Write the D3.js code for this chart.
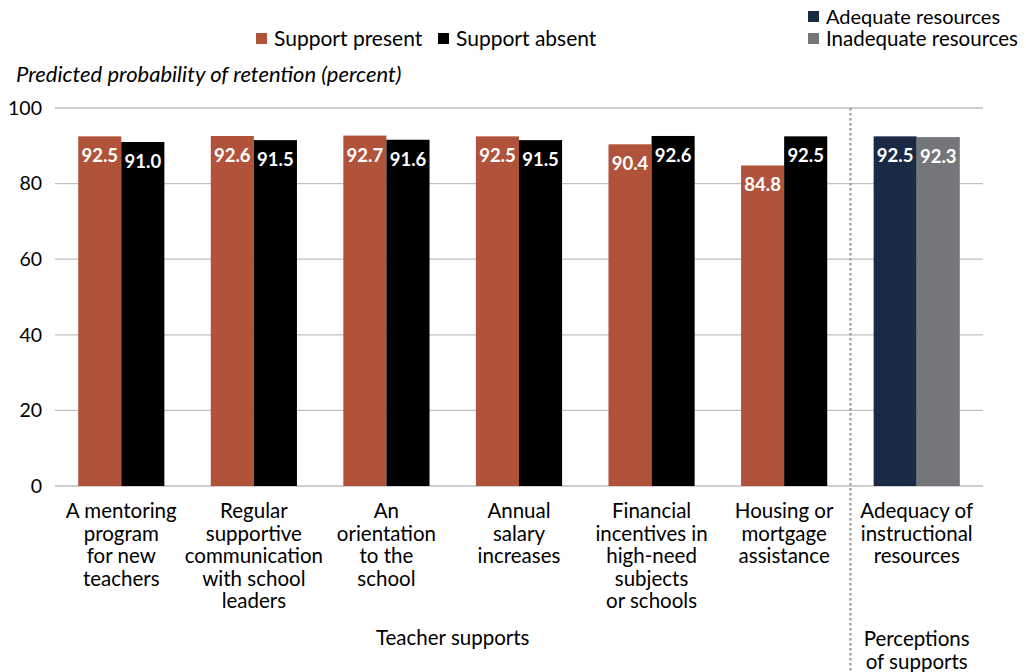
<!DOCTYPE html>
<html><head><meta charset="utf-8">
<script src="https://cdn.jsdelivr.net/npm/d3@7"></script>
<style>body{margin:0;background:#fff}svg{display:block;font-family:Lato,"Open Sans",sans-serif}</style>
</head><body><svg id="c" width="1026" height="672"></svg>
<script>
const categories = [
  ["A mentoring","program","for new","teachers"],
  ["Regular","supportive","communication","with school","leaders"],
  ["An","orientation","to the","school"],
  ["Annual","salary","increases"],
  ["Financial","incentives in","high-need","subjects","or schools"],
  ["Housing or","mortgage","assistance"],
  ["Adequacy of","instructional","resources"]
];
const supportPresent = [92.5, 92.6, 92.7, 92.5, 90.4, 84.8];
const supportAbsent = [91.0, 91.5, 91.6, 91.5, 92.6, 92.5];
const adequate = [92.5];
const inadequate = [92.3];
const yTicks = [0, 20, 40, 60, 80, 100];

const colors = {present:"#B0533A", absent:"#000000", adequate:"#1B2A44", inadequate:"#75767A"};
const svg = d3.select("#c");
const x = d3.scaleBand().domain(d3.range(categories.length)).range([55, 983]).paddingInner(0.35).paddingOuter(0.175);
const y = d3.scaleLinear().domain([0, 100]).range([486, 108]);
const x1 = d3.scaleBand().domain([0,1]).range([0, x.bandwidth()]);

svg.append("g").selectAll("line").data(yTicks).join("line")
  .attr("x1",55).attr("x2",983).attr("y1",d=>y(d)).attr("y2",d=>y(d))
  .attr("stroke","#BFBFBF").attr("stroke-width",1.3);
const yAxis = d3.axisLeft(y).tickValues(yTicks).tickSize(0).tickPadding(13);
const ga = svg.append("g").attr("transform","translate(55,0)").call(yAxis);
ga.select(".domain").remove();
ga.selectAll("text").attr("font-size",19.5).attr("fill","#000").attr("font-family","Lato,'Open Sans',sans-serif");

const bars = [];
supportPresent.forEach((v,i)=>bars.push({g:i,s:0,v,c:colors.present}));
supportAbsent.forEach((v,i)=>bars.push({g:i,s:1,v,c:colors.absent}));
adequate.forEach((v)=>bars.push({g:6,s:0,v,c:colors.adequate}));
inadequate.forEach((v)=>bars.push({g:6,s:1,v,c:colors.inadequate}));
svg.append("g").selectAll("rect").data(bars).join("rect")
  .attr("x",d=>x(d.g)+x1(d.s)).attr("width",x1.bandwidth())
  .attr("y",d=>y(d.v)).attr("height",d=>y(0)-y(d.v)).attr("fill",d=>d.c);
svg.append("g").selectAll("text").data(bars).join("text")
  .attr("x",d=>x(d.g)+x1(d.s)+x1.bandwidth()/2).attr("y",d=>y(d.v)+26)
  .attr("text-anchor","middle").attr("fill","#fff").attr("font-weight","bold").attr("font-size",18.5)
  .text(d=>d.v.toFixed(1));

const dx = (x(5)+x.bandwidth()+x(6))/2;
svg.append("line").attr("x1",dx).attr("x2",dx)
  .attr("y1",108).attr("y2",672).attr("stroke","#A6A6A6").attr("stroke-width",2.5).attr("stroke-dasharray","2.5,2.5");

const cl = svg.append("g");
categories.forEach((lines,i)=>{
  const t = cl.append("text").attr("text-anchor","middle").attr("font-size",20.5).attr("fill","#000");
  lines.forEach((ln,j)=>t.append("tspan").attr("x",x(i)+x.bandwidth()/2).attr("y",518+j*22.5).text(ln));
});
svg.append("text").attr("x",(x(0)+x(5)+x.bandwidth())/2).attr("y",645).attr("text-anchor","middle").attr("font-size",20.5).text("Teacher supports");
const pg = svg.append("text").attr("text-anchor","middle").attr("font-size",20.5);
["Perceptions","of supports"].forEach((ln,j)=>pg.append("tspan").attr("x",x(6)+x.bandwidth()/2).attr("y",646+j*22.5).text(ln));

svg.append("text").attr("x",16).attr("y",82).attr("font-style","italic").attr("font-size",22).text("Predicted probability of retention (percent)");

const legend = [
  {label:"Support present", c:colors.present, x:256, y:33, fs:21},
  {label:"Support absent", c:colors.absent, x:438, y:33, fs:21},
  {label:"Adequate resources", c:colors.adequate, x:808, y:11, fs:20},
  {label:"Inadequate resources", c:colors.inadequate, x:808, y:33, fs:20.5}
];
const lg = svg.append("g").selectAll("g").data(legend).join("g").attr("transform",d=>`translate(${d.x},${d.y})`);
lg.append("rect").attr("width",11).attr("height",11).attr("fill",d=>d.c);
lg.append("text").attr("x",18).attr("y",13).attr("font-size",d=>d.fs).text(d=>d.label);
</script></body></html>
